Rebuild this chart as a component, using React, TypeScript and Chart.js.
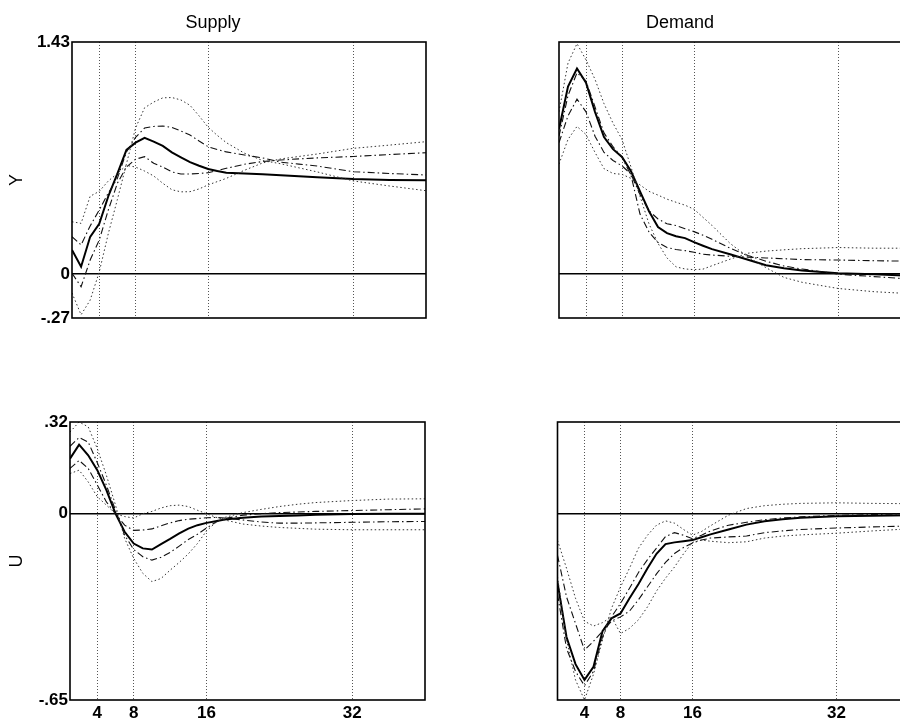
import React, { useEffect, useRef } from 'react';
import { Chart, registerables } from 'chart.js';

Chart.register(...registerables);

const FONT = "'Liberation Sans', Arial, Helvetica, sans-serif";

// Horizons (quarters) at which the responses are read
const horizons = [1, 2, 3, 4, 5, 6, 7, 8, 9, 10, 11, 12, 13, 14, 15, 16, 17, 18, 20, 22, 24, 26, 28, 32, 36, 40];
const xGridTicks = [4, 8, 16, 32];
const yTicksY = [-0.27, 0, 1.43];
const yTicksU = [-0.65, 0, 0.32];
const columnTitles = ['Supply', 'Demand'];
const rowLabels = ['Y', 'U'];

// Supply shock, response of Y
const supplyY_mid = [0.149, 0.046, 0.23, 0.31, 0.48, 0.62, 0.765, 0.81, 0.84, 0.816, 0.79, 0.75, 0.72, 0.69, 0.668, 0.648, 0.635, 0.625, 0.62, 0.615, 0.61, 0.603, 0.597, 0.586, 0.58, 0.578];
const supplyY_dotA = [0.323, 0.313, 0.48, 0.51, 0.574, 0.62, 0.67, 0.66, 0.635, 0.605, 0.56, 0.52, 0.507, 0.508, 0.525, 0.55, 0.57, 0.59, 0.64, 0.685, 0.71, 0.725, 0.74, 0.775, 0.795, 0.816];
const supplyY_dotB = [-0.116, -0.25, -0.16, 0.013, 0.25, 0.46, 0.68, 0.9, 1.025, 1.06, 1.086, 1.088, 1.073, 1.04, 0.975, 0.905, 0.855, 0.81, 0.745, 0.7, 0.68, 0.655, 0.63, 0.574, 0.543, 0.514];
const supplyY_dashC = [0.231, 0.18, 0.297, 0.395, 0.5, 0.59, 0.753, 0.842, 0.9, 0.91, 0.913, 0.904, 0.882, 0.857, 0.82, 0.785, 0.768, 0.753, 0.734, 0.716, 0.69, 0.678, 0.666, 0.631, 0.62, 0.611];
const supplyY_dashD = [0.005, -0.077, 0.087, 0.21, 0.395, 0.56, 0.66, 0.708, 0.724, 0.683, 0.66, 0.63, 0.617, 0.617, 0.62, 0.625, 0.638, 0.652, 0.677, 0.694, 0.703, 0.71, 0.716, 0.725, 0.737, 0.748];

// Demand shock, response of Y
const demandY_mid = [0.893, 1.156, 1.267, 1.18, 1.0, 0.845, 0.77, 0.722, 0.634, 0.51, 0.388, 0.29, 0.253, 0.234, 0.222, 0.197, 0.175, 0.154, 0.123, 0.089, 0.055, 0.037, 0.022, 0.006, 0.0, -0.01];
const demandY_dotE = [1.0, 1.3, 1.42, 1.32, 1.2, 1.05, 0.93, 0.83, 0.66, 0.48, 0.31, 0.19, 0.1, 0.045, 0.032, 0.028, 0.031, 0.052, 0.092, 0.129, 0.142, 0.15, 0.157, 0.164, 0.16, 0.16];
const demandY_dotF = [0.678, 0.83, 0.91, 0.86, 0.75, 0.65, 0.62, 0.615, 0.59, 0.55, 0.51, 0.487, 0.462, 0.443, 0.425, 0.4, 0.35, 0.3, 0.19, 0.105, 0.04, -0.02, -0.05, -0.088, -0.108, -0.12];
const demandY_dashG = [0.81, 0.975, 1.078, 1.0, 0.85, 0.75, 0.7, 0.667, 0.616, 0.49, 0.39, 0.34, 0.31, 0.3, 0.28, 0.262, 0.24, 0.215, 0.16, 0.115, 0.08, 0.05, 0.032, 0.0, -0.015, -0.03];
const demandY_dashH = [0.85, 1.1, 1.24, 1.19, 1.03, 0.87, 0.785, 0.72, 0.61, 0.37, 0.26, 0.195, 0.164, 0.152, 0.145, 0.135, 0.123, 0.118, 0.11, 0.105, 0.1, 0.095, 0.09, 0.087, 0.083, 0.08];

// Supply shock, response of U
const supplyU_mid = [0.192, 0.241, 0.204, 0.152, 0.082, 0.0, -0.063, -0.104, -0.121, -0.125, -0.106, -0.088, -0.069, -0.052, -0.04, -0.032, -0.026, -0.02, -0.014, -0.01, -0.008, -0.006, -0.004, -0.001, 0.0, 0.0];
const supplyU_dotI = [0.285, 0.32, 0.303, 0.227, 0.134, 0.03, -0.086, -0.156, -0.208, -0.237, -0.226, -0.197, -0.17, -0.14, -0.104, -0.06, -0.031, -0.013, 0.004, 0.015, 0.025, 0.033, 0.039, 0.046, 0.051, 0.052];
const supplyU_dotJ = [0.14, 0.152, 0.111, 0.059, 0.03, 0.0, -0.01, -0.015, 0.0, 0.008, 0.02, 0.028, 0.03, 0.025, 0.012, 0.0, -0.012, -0.022, -0.036, -0.043, -0.048, -0.051, -0.054, -0.056, -0.056, -0.056];
const supplyU_dashK = [0.235, 0.266, 0.25, 0.178, 0.099, 0.012, -0.075, -0.125, -0.15, -0.162, -0.152, -0.135, -0.113, -0.09, -0.072, -0.05, -0.03, -0.017, -0.005, 0.0, 0.004, 0.006, 0.008, 0.011, 0.014, 0.017];
const supplyU_dashL = [0.158, 0.186, 0.158, 0.1, 0.041, 0.0, -0.04, -0.058, -0.057, -0.053, -0.042, -0.032, -0.024, -0.019, -0.017, -0.014, -0.013, -0.015, -0.022, -0.029, -0.033, -0.033, -0.032, -0.03, -0.028, -0.027];

// Demand shock, response of U
const demandU_mid = [-0.24, -0.43, -0.525, -0.58, -0.534, -0.41, -0.365, -0.348, -0.295, -0.245, -0.19, -0.14, -0.106, -0.1, -0.096, -0.092, -0.082, -0.072, -0.055, -0.038, -0.026, -0.019, -0.014, -0.009, -0.007, -0.005];
const demandU_dotM = [-0.093, -0.19, -0.295, -0.375, -0.392, -0.38, -0.36, -0.418, -0.4, -0.37, -0.325, -0.27, -0.225, -0.186, -0.14, -0.1, -0.092, -0.096, -0.101, -0.098, -0.085, -0.078, -0.074, -0.068, -0.06, -0.053];
const demandU_dotN = [-0.22, -0.44, -0.58, -0.65, -0.56, -0.44, -0.33, -0.256, -0.19, -0.12, -0.075, -0.04, -0.025, -0.033, -0.055, -0.075, -0.062, -0.042, -0.005, 0.018, 0.028, 0.033, 0.036, 0.038, 0.036, 0.035];
const demandU_dashO = [-0.145, -0.29, -0.383, -0.476, -0.445, -0.41, -0.375, -0.36, -0.34, -0.3, -0.255, -0.21, -0.17, -0.139, -0.118, -0.102, -0.092, -0.085, -0.081, -0.078, -0.066, -0.06, -0.055, -0.05, -0.046, -0.043];
const demandU_dashP = [-0.28, -0.47, -0.55, -0.6, -0.55, -0.43, -0.36, -0.313, -0.26, -0.205, -0.16, -0.12, -0.08, -0.066, -0.075, -0.087, -0.075, -0.06, -0.04, -0.03, -0.021, -0.015, -0.011, -0.006, -0.003, 0.0];

type Series = { mid: number[]; dot1: number[]; dot2: number[]; dash1: number[]; dash2: number[] };

type PanelProps = {
  left: number;
  top: number;
  width: number;
  height: number;
  area: { l: number; t: number; r: number; b: number };
  title?: string;
  yLabel?: string;
  yTicks: number[];
  showYLabels: boolean;
  showXLabels: boolean;
  series: Series;
};

const toXY = (vals: number[]) => horizons.map((h, i) => ({ x: h, y: vals[i] }));

const fmt = (v: number) => (v === 0 ? '0' : v.toFixed(2).replace('0.', '.'));

const framePlugin = {
  id: 'frame',
  afterDraw(chart: any) {
    const { ctx, chartArea } = chart;
    const { left, top, right, bottom } = chartArea;
    ctx.save();
    ctx.strokeStyle = '#000';
    ctx.lineWidth = 1.6;
    ctx.setLineDash([]);
    ctx.strokeRect(left, top, right - left, bottom - top);
    ctx.restore();
  },
};

function Panel(p: PanelProps) {
  const ref = useRef<HTMLCanvasElement | null>(null);
  useEffect(() => {
    if (!ref.current) return;
    const xAxisH = p.showXLabels ? 22 : 0;
    const titleH = 42;
    const dotted = { borderColor: '#333', borderWidth: 1, borderDash: [1.5, 2.5], pointRadius: 0, fill: false, tension: 0 };
    const dashdot = { borderColor: '#111', borderWidth: 1.1, borderDash: [7, 3, 1.5, 3], pointRadius: 0, fill: false, tension: 0 };
    const solid = { borderColor: '#000', borderWidth: 2, pointRadius: 0, fill: false, tension: 0 };
    const chart = new Chart(ref.current, {
      type: 'line',
      data: {
        datasets: [
          { ...dotted, data: toXY(p.series.dot1) },
          { ...dotted, data: toXY(p.series.dot2) },
          { ...dashdot, data: toXY(p.series.dash1) },
          { ...dashdot, data: toXY(p.series.dash2) },
          { ...solid, data: toXY(p.series.mid) },
        ],
      },
      options: {
        animation: false,
        responsive: false,
        events: [],
        layout: {
          padding: {
            left: 0,
            top: p.title ? 0 : p.area.t,
            right: p.width - p.area.r,
            bottom: p.height - p.area.b - xAxisH,
          },
        },
        plugins: {
          legend: { display: false },
          tooltip: { enabled: false },
          title: {
            display: !!p.title,
            text: p.title || '',
            color: '#000',
            font: { family: FONT, size: 18, weight: 'normal' },
            padding: { top: 12, bottom: titleH - 12 - 21.6 },
          },
        },
        scales: {
          x: {
            type: 'linear',
            min: 1,
            max: 40,
            afterBuildTicks: (axis: any) => {
              axis.ticks = xGridTicks.map((v) => ({ value: v }));
            },
            afterFit: (axis: any) => {
              axis.height = xAxisH;
            },
            ticks: {
              display: p.showXLabels,
              autoSkip: false,
              maxRotation: 0,
              color: '#000',
              padding: 3,
              font: { family: FONT, size: 17, weight: 'bold' },
              callback: (v: any) => String(v),
            },
            grid: { drawTicks: false, color: '#555', lineWidth: 1 },
            border: { display: false, dash: [1, 2] },
          },
          y: {
            type: 'linear',
            min: p.yTicks[0],
            max: p.yTicks[p.yTicks.length - 1],
            afterBuildTicks: (axis: any) => {
              axis.ticks = p.yTicks.map((v) => ({ value: v }));
            },
            afterFit: (axis: any) => {
              axis.width = p.area.l;
            },
            ticks: {
              display: p.showYLabels,
              color: '#000',
              padding: 2,
              font: { family: FONT, size: 17, weight: 'bold' },
              callback: (v: any) => fmt(Number(v)),
            },
            grid: {
              drawTicks: false,
              lineWidth: 1.5,
              color: (ctx: any) => (ctx.tick && ctx.tick.value === 0 ? '#000' : 'rgba(0,0,0,0)'),
            },
            border: { display: false },
            title: {
              display: !!p.yLabel,
              text: p.yLabel || '',
              color: '#000',
              font: { family: FONT, size: 18, weight: 'normal' },
              padding: { top: 6, bottom: 0 },
            },
          },
        },
      },
      plugins: [framePlugin],
    } as any);
    return () => chart.destroy();
  }, []);
  return (
    <canvas
      ref={ref}
      width={p.width}
      height={p.height}
      style={{ position: 'absolute', left: p.left, top: p.top, width: p.width, height: p.height }}
    />
  );
}

export default function App() {
  return (
    <div
      style={{
        position: 'fixed',
        left: 0,
        top: 0,
        width: 900,
        height: 722,
        overflow: 'hidden',
        background: '#fff',
      }}
    >
      <Panel
        left={0}
        top={0}
        width={440}
        height={340}
        area={{ l: 72, t: 42, r: 426, b: 318 }}
        title={columnTitles[0]}
        yLabel={rowLabels[0]}
        yTicks={yTicksY}
        showYLabels={true}
        showXLabels={false}
        series={{ mid: supplyY_mid, dot1: supplyY_dotA, dot2: supplyY_dotB, dash1: supplyY_dashC, dash2: supplyY_dashD }}
      />
      <Panel
        left={450}
        top={0}
        width={470}
        height={340}
        area={{ l: 109, t: 42, r: 460, b: 318 }}
        title={columnTitles[1]}
        yTicks={yTicksY}
        showYLabels={false}
        showXLabels={false}
        series={{ mid: demandY_mid, dot1: demandY_dotE, dot2: demandY_dotF, dash1: demandY_dashG, dash2: demandY_dashH }}
      />
      <Panel
        left={0}
        top={380}
        width={440}
        height={342}
        area={{ l: 70, t: 42, r: 425, b: 320 }}
        yLabel={rowLabels[1]}
        yTicks={yTicksU}
        showYLabels={true}
        showXLabels={true}
        series={{ mid: supplyU_mid, dot1: supplyU_dotI, dot2: supplyU_dotJ, dash1: supplyU_dashK, dash2: supplyU_dashL }}
      />
      <Panel
        left={450}
        top={380}
        width={470}
        height={342}
        area={{ l: 107.5, t: 42, r: 458.5, b: 320 }}
        yTicks={yTicksU}
        showYLabels={false}
        showXLabels={true}
        series={{ mid: demandU_mid, dot1: demandU_dotM, dot2: demandU_dotN, dash1: demandU_dashO, dash2: demandU_dashP }}
      />
    </div>
  );
}
